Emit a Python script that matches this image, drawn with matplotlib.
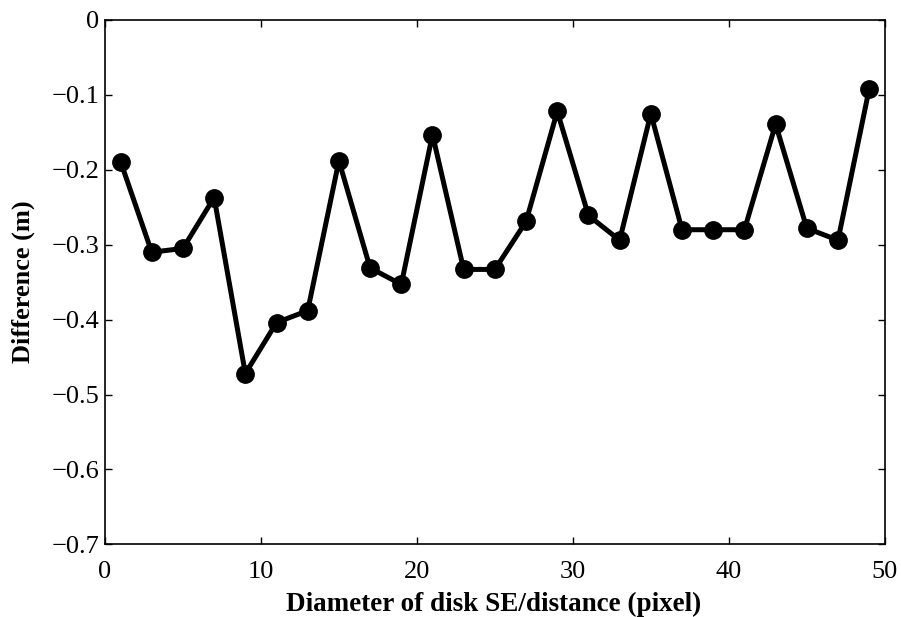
import numpy as np
import matplotlib.pyplot as plt

plt.rcParams['font.family'] = ['Liberation Serif', 'DejaVu Serif']

diameter = [1, 3, 5, 7, 9, 11, 13, 15, 17, 19, 21, 23, 25,
            27, 29, 31, 33, 35, 37, 39, 41, 43, 45, 47, 49]
difference = [-0.189, -0.310, -0.305, -0.237, -0.472, -0.404, -0.388,
              -0.188, -0.331, -0.353, -0.153, -0.333, -0.333, -0.269,
              -0.122, -0.261, -0.294, -0.125, -0.280, -0.280, -0.280,
              -0.139, -0.278, -0.294, -0.092]
x_ticks = [0, 10, 20, 30, 40, 50]
y_ticks = [0, -0.1, -0.2, -0.3, -0.4, -0.5, -0.6, -0.7]
y_labels = ['0', '\u22120.1', '\u22120.2', '\u22120.3', '\u22120.4',
            '\u22120.5', '\u22120.6', '\u22120.7']

fig = plt.figure(figsize=(9.01, 6.17), dpi=100)
ax = fig.add_axes([0.1165, 0.1178, 0.8655, 0.8498])

ax.plot(diameter, difference, color='black', linewidth=3.6,
        marker='o', markersize=12.5, markerfacecolor='black')

ax.set_xlim(0, 50)
ax.set_ylim(-0.7, 0)
ax.set_xticks(x_ticks)
ax.set_yticks(y_ticks)
ax.set_yticklabels(y_labels)
ax.tick_params(direction='in', length=5, width=1, labelsize=19,
               top=True, right=True)
ax.tick_params(axis='x', pad=12)
ax.tick_params(axis='y', pad=4)
for s in ax.spines.values():
    s.set_linewidth(1.2)

ax.set_xlabel('Diameter of disk SE/distance (pixel)', fontsize=19.5,
              fontweight='bold')
ax.set_ylabel('Difference (m)', fontsize=19, fontweight='bold')
ax.xaxis.set_label_coords(0.498, -0.091)
ax.yaxis.set_label_coords(-0.09, 0.5)

fig.savefig('out.png', dpi=100)
